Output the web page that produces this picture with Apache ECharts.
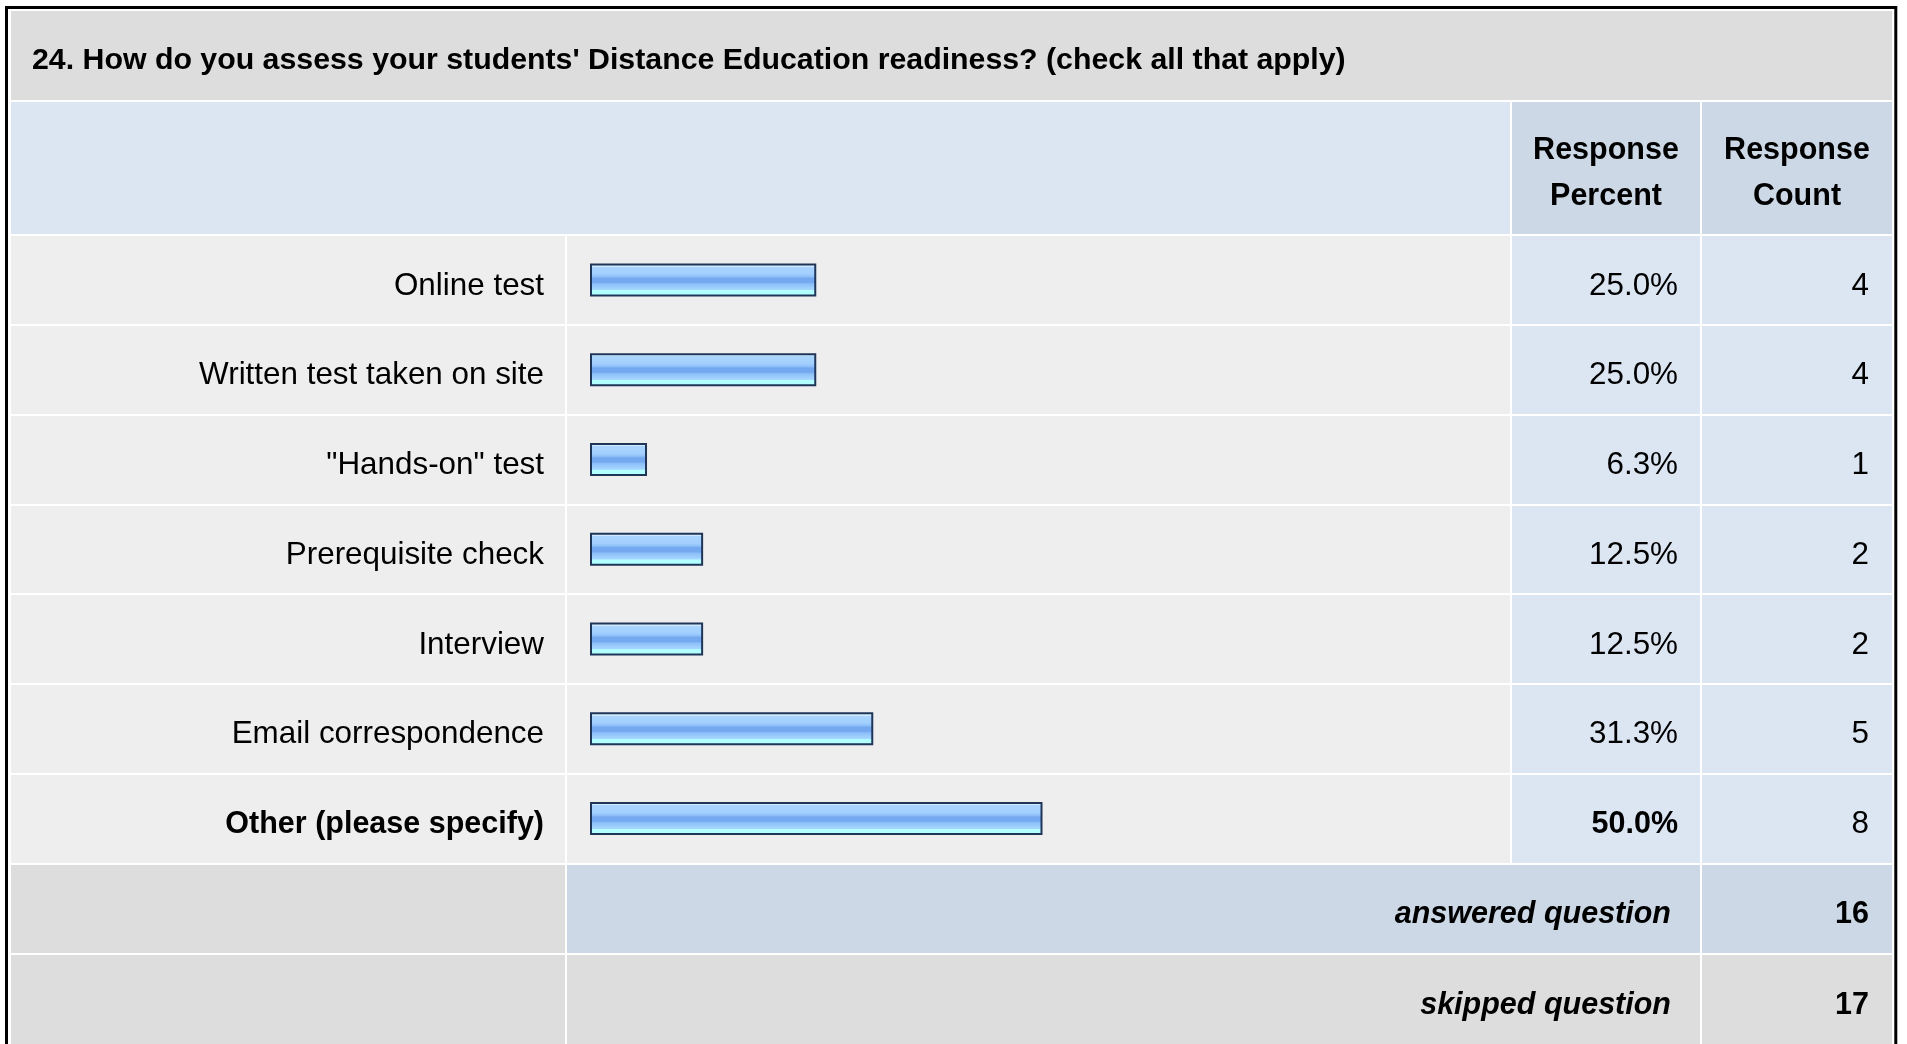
<!DOCTYPE html>
<html>
<head>
<meta charset="utf-8">
<title>Distance Education readiness</title>
<script src="https://cdn.jsdelivr.net/npm/echarts@6/dist/echarts.min.js"></script>
<style>
  html, body { margin: 0; padding: 0; background: #ffffff; }
  #chart { width: 1907px; height: 1044px; }
</style>
</head>
<body>
<div id="chart"></div>
<script>
// ---- survey data ----
const titleText = "24. How do you assess your students' Distance Education readiness? (check all that apply)";
const categories = [
  'Online test',
  'Written test taken on site',
  '"Hands-on" test',
  'Prerequisite check',
  'Interview',
  'Email correspondence',
  'Other (please specify)'
];
const responsePercent = [25.0, 25.0, 6.3, 12.5, 12.5, 31.3, 50.0];
const responseCount = [4, 4, 1, 2, 2, 5, 8];
const headerLabels = ['Response\nPercent', 'Response\nCount'];
const summaryLabels = ['answered question', 'skipped question'];
const summaryCounts = [16, 17];
const emphasizedRow = 6; // "Other" row is set in bold

// ---- layout ----
const FONT = '"Liberation Sans", Arial, Helvetica, sans-serif';
const REG = 31.4, BOLD = 30.5;
const L = 11, R = 1892;
const colLabel = [11, 565], colBar = [567, 1510], colPct = [1512, 1700], colCnt = [1702, 1892];
const rowsTop = 235, rowsBottom = 863.5;
const C_TITLE = '#dddddd', C_ROW = '#eeeeee', C_LIGHT = '#dce6f2', C_DARK = '#ccd8e6';
const LABEL_PAD = [12, 0, 0, 0]; // nudges cell text slightly below the row centre

const barFill = new echarts.graphic.LinearGradient(0, 0, 0, 1, [
  { offset: 0.00, color: '#d2eaff' },
  { offset: 0.10, color: '#d2eaff' },
  { offset: 0.10, color: '#aad5ff' },
  { offset: 0.32, color: '#a2cffe' },
  { offset: 0.40, color: '#8fc0f8' },
  { offset: 0.45, color: '#74a9f0' },
  { offset: 0.58, color: '#74a9f0' },
  { offset: 0.62, color: '#8cbff8' },
  { offset: 0.80, color: '#a6d6ff' },
  { offset: 0.82, color: '#b2ffff' },
  { offset: 1.00, color: '#b2ffff' }
]);

const charts = echarts.init(document.getElementById('chart'), null, { renderer: 'canvas' });

function cellGrid(col, bg) {
  return {
    left: col[0], width: col[1] - col[0], top: rowsTop, height: rowsBottom - rowsTop,
    show: true, backgroundColor: bg, borderWidth: 0, containLabel: false
  };
}
function hiddenX(gi) {
  return { type: 'value', gridIndex: gi, show: false, min: 0, max: 100 };
}
function columnY(gi, showLabel, margin, formatter) {
  return {
    type: 'category', gridIndex: gi, data: categories, inverse: true, position: 'right',
    axisLine: { show: false }, axisTick: { show: false },
    axisLabel: {
      show: showLabel, inside: true, interval: 0, margin: margin, padding: LABEL_PAD,
      color: '#000', fontFamily: FONT, fontSize: REG, formatter: formatter,
      rich: {
        b: { fontFamily: FONT, fontSize: BOLD, fontWeight: 'bold', color: '#000' },
        n: { fontFamily: FONT, fontSize: REG, color: '#000' }
      }
    },
    splitLine: { show: true, interval: 0, lineStyle: { color: '#ffffff', width: 2 } },
    z: 3
  };
}

const elements = [];
function rect(x0, y0, x1, y1, fill) {
  elements.push({ type: 'rect', z: 0, silent: true, shape: { x: x0, y: y0, width: x1 - x0, height: y1 - y0 }, style: { fill: fill } });
}
function text(x, y, str, font, align) {
  elements.push({ type: 'text', z: 10, silent: true, x: x, y: y,
    style: { text: str, font: font, fill: '#000', textAlign: align, textVerticalAlign: 'middle', align: align, verticalAlign: 'middle', lineHeight: 46 } });
}

// title band and column header band
rect(L, 11, R, 100, C_TITLE);
rect(L, 102, colBar[1], 234, C_LIGHT);
rect(colPct[0], 102, colPct[1], 234, C_DARK);
rect(colCnt[0], 102, colCnt[1], 234, C_DARK);
text(32, 61, titleText, 'bold 30.3px ' + FONT, 'left');
text((colPct[0] + colPct[1]) / 2, 174, headerLabels[0], 'bold ' + BOLD + 'px ' + FONT, 'center');
text((colCnt[0] + colCnt[1]) / 2, 174, headerLabels[1], 'bold ' + BOLD + 'px ' + FONT, 'center');

// summary rows
const sumRows = [[865, 953, C_DARK], [955, 1044, C_TITLE]];
sumRows.forEach(function (r, i) {
  rect(colLabel[0], r[0], colLabel[1], r[1], C_TITLE);
  rect(colBar[0], r[0], colPct[1], r[1], r[2]);
  rect(colCnt[0], r[0], colCnt[1], r[1], r[2]);
  const cy = (r[0] + r[1]) / 2 + 6;
  text(colPct[1] - 29, cy, summaryLabels[i], 'italic bold ' + BOLD + 'px ' + FONT, 'right');
  text(colCnt[1] - 23, cy, String(summaryCounts[i]), 'bold ' + BOLD + 'px ' + FONT, 'right');
});

// outer frame
elements.push({ type: 'rect', z: 20, silent: true, shape: { x: 6.5, y: 7.5, width: 1889.3, height: 1100 }, style: { fill: 'none', stroke: '#000', lineWidth: 3 } });

const option = {
  animation: false,
  backgroundColor: '#ffffff',
  textStyle: { fontFamily: FONT },
  grid: [
    cellGrid(colLabel, C_ROW),
    cellGrid(colBar, C_ROW),
    { left: 590, width: 905, top: rowsTop, height: rowsBottom - rowsTop, show: false, containLabel: false },
    cellGrid(colPct, C_LIGHT),
    cellGrid(colCnt, C_LIGHT)
  ],
  xAxis: [hiddenX(0), hiddenX(1), hiddenX(2), hiddenX(3), hiddenX(4)],
  yAxis: [
    columnY(0, true, 21, function (v, i) { return i === emphasizedRow ? '{b|' + v + '}' : '{n|' + v + '}'; }),
    columnY(1, false, 0, null),
    Object.assign(columnY(2, false, 0, null), { show: false }),
    columnY(3, true, 22, function (v, i) {
      const s = responsePercent[i].toFixed(1) + '%';
      return i === emphasizedRow ? '{b|' + s + '}' : '{n|' + s + '}';
    }),
    columnY(4, true, 23, function (v, i) { return '{n|' + responseCount[i] + '}'; })
  ],
  series: [{
    type: 'bar', xAxisIndex: 2, yAxisIndex: 2, data: responsePercent,
    barWidth: 33, silent: true, z: 5,
    itemStyle: { color: barFill, borderColor: '#1f3659', borderWidth: 2 }
  }],
  graphic: { elements: elements }
};
charts.setOption(option);
</script>
</body>
</html>
